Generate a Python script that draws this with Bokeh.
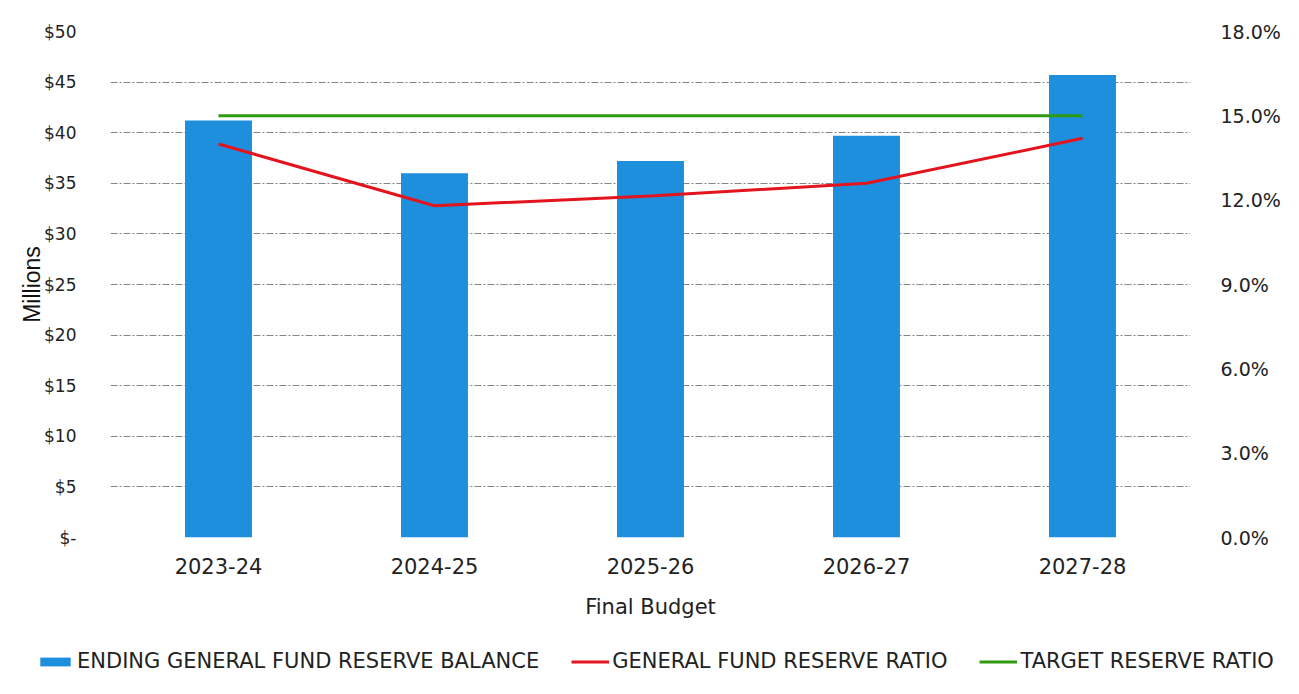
from bokeh.plotting import figure
from bokeh.layouts import column
from bokeh.models import (Range1d, LinearAxis, FixedTicker, NumeralTickFormatter,
                          Legend, LegendItem, ColumnDataSource, FactorRange)
from bokeh.embed import file_html
from bokeh.resources import INLINE

years = ["2023-24", "2024-25", "2025-26", "2026-27", "2027-28"]
reserve_balance = [41.2, 36.0, 37.2, 39.7, 45.7]        # $ millions
reserve_ratio = [0.140, 0.118, 0.1215, 0.126, 0.142]   # fraction
target_ratio = [0.150, 0.150, 0.150, 0.150, 0.150]
left_ticks = [0, 5, 10, 15, 20, 25, 30, 35, 40, 45, 50]
right_ticks = [0.0, 0.03, 0.06, 0.09, 0.12, 0.15, 0.18]
legend_labels = ["ENDING GENERAL FUND RESERVE BALANCE", "GENERAL FUND RESERVE RATIO", "TARGET RESERVE RATIO"]

BLUE = "#1E8FDD"
RED = "#E3141E"
GREEN = "#2E9A12"
NAN = float("nan")

src = ColumnDataSource(dict(x=years, bal=reserve_balance, ratio=reserve_ratio, target=target_ratio))

p = figure(width=1283, height=638, x_range=FactorRange(*years), y_range=Range1d(0, 50),
           output_backend="svg", toolbar_location=None,
           min_border_left=110, min_border_right=83, min_border_top=31, min_border_bottom=101)
p.frame_align = False
p.extra_y_ranges = {"pct": Range1d(0, 0.18)}
p.outline_line_color = None
p.background_fill_color = "white"
p.border_fill_color = "white"

p.vbar(x="x", top="bal", width=0.31, source=src, color=BLUE, line_color=None)
p.line(x="x", y="ratio", source=src, y_range_name="pct", line_color=RED, line_width=3)
p.line(x="x", y="target", source=src, y_range_name="pct", line_color=GREEN, line_width=3)

# grid
p.xgrid.grid_line_color = None
p.ygrid.ticker = FixedTicker(ticks=left_ticks)
p.ygrid.grid_line_color = "#333333"
p.ygrid.grid_line_alpha = 0.6
p.ygrid.grid_line_dash = "7 2 2 2"
p.ygrid.grid_line_width = 1

# left axis
ya = p.yaxis[0]
ya.ticker = FixedTicker(ticks=left_ticks)
ya.formatter = NumeralTickFormatter(format="$0")
ya.major_label_overrides = {0: "$-"}
ya.axis_line_color = None
ya.major_tick_line_color = None
ya.minor_tick_line_color = None
ya.major_label_standoff = 28
ya.major_label_text_font = "DejaVu Sans"
ya.major_label_text_font_size = "17px"
ya.major_label_text_color = "#222222"
ya.axis_label = "Millions"
ya.axis_label_text_font = "Liberation Sans"
ya.axis_label_text_font_style = "normal"
ya.axis_label_text_font_size = "23px"
ya.axis_label_text_color = "#111111"
ya.axis_label_standoff = -4

# right axis
ra = LinearAxis(y_range_name="pct", ticker=FixedTicker(ticks=right_ticks),
                formatter=NumeralTickFormatter(format="0.0%"))
ra.axis_line_color = None
ra.major_tick_line_color = None
ra.minor_tick_line_color = None
ra.major_label_standoff = 24
ra.major_label_text_font = "DejaVu Sans"
ra.major_label_text_font_size = "19px"
ra.major_label_text_color = "#222222"
p.add_layout(ra, "right")

# x axis
xa = p.xaxis[0]
xa.axis_line_color = None
xa.major_tick_line_color = None
xa.minor_tick_line_color = None
xa.major_label_standoff = 14
xa.major_label_text_font = "DejaVu Sans"
xa.major_label_text_font_size = "21px"
xa.major_label_text_color = "#222222"
xa.axis_label = "Final Budget"
xa.axis_label_text_font = "DejaVu Sans"
xa.axis_label_text_font_style = "normal"
xa.axis_label_text_font_size = "21px"
xa.axis_label_text_color = "#222222"
xa.axis_label_standoff = 18

# legend strip below the chart
lg = figure(width=1283, height=40, x_range=Range1d(0, 1), y_range=Range1d(0, 1),
            output_backend="svg", toolbar_location=None, x_axis_type=None, y_axis_type=None,
            min_border=0)
lg.frame_align = False
lg.outline_line_color = None
lg.grid.visible = False
r_bar = lg.vbar(x=[NAN], top=[NAN], width=0.1, fill_color=BLUE, line_color=None)
r_red = lg.line(x=[NAN], y=[NAN], line_color=RED, line_width=3)
r_green = lg.line(x=[NAN], y=[NAN], line_color=GREEN, line_width=3)

legend = Legend(items=[
    LegendItem(label=legend_labels[0], renderers=[r_bar]),
    LegendItem(label=legend_labels[1], renderers=[r_red]),
    LegendItem(label=legend_labels[2], renderers=[r_green]),
], orientation="horizontal", location=(36, 5))
legend.label_text_font = "DejaVu Sans"
legend.label_text_font_size = "21px"
legend.label_text_color = "#222222"
legend.glyph_width = 38
legend.glyph_height = 11
legend.label_standoff = 3
legend.spacing = 32
legend.padding = 0
legend.margin = 0
legend.border_line_color = None
legend.background_fill_alpha = 0
lg.add_layout(legend, "center")

layout = column(p, lg, spacing=0)
open("out.html", "w").write(file_html(layout, INLINE))
